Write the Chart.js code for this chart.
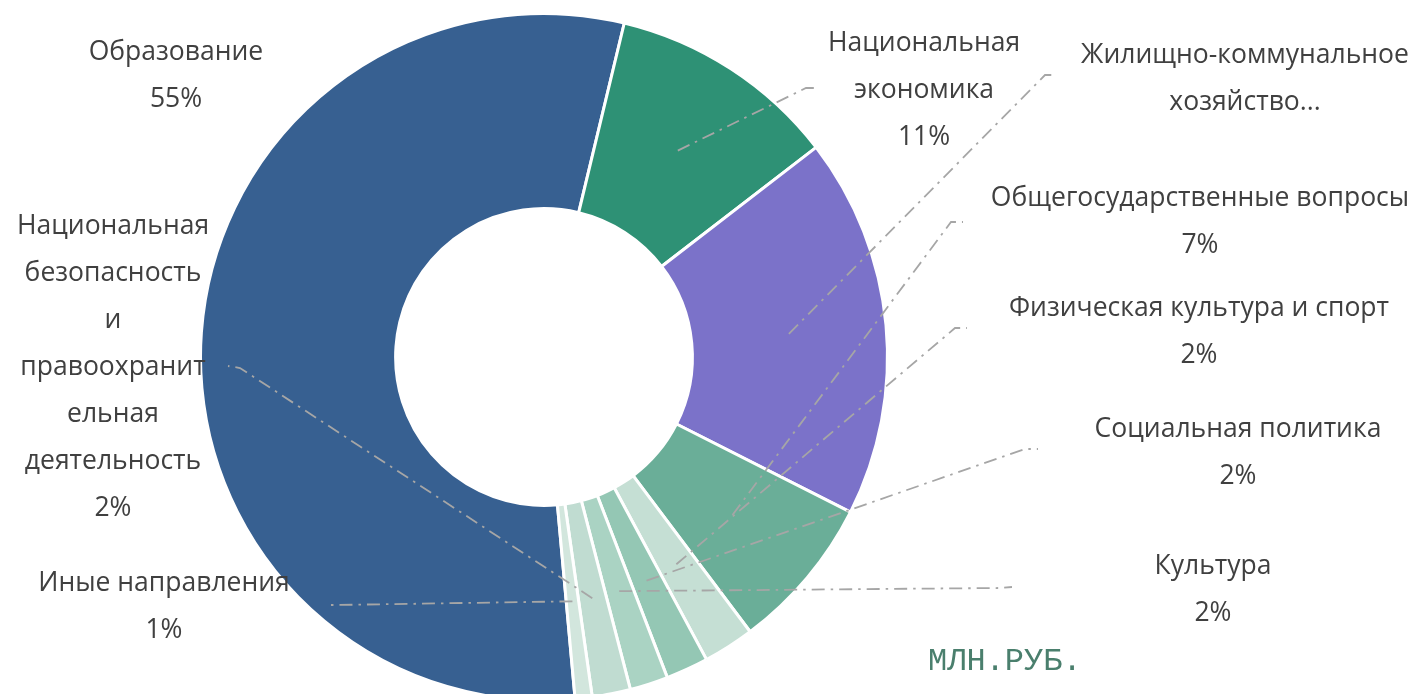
<!DOCTYPE html>
<html>
<head>
<meta charset="utf-8">
<script src="https://cdn.jsdelivr.net/npm/chart.js@4.4.1/dist/chart.umd.min.js"></script>
<style>
  html, body { margin: 0; padding: 0; background: #ffffff; overflow: hidden; }
  #wrap { position: relative; width: 1424px; height: 694px; }
  canvas { display: block; }
</style>
</head>
<body>
<div id="wrap"><canvas id="c" width="1424" height="694"></canvas></div>
<script>
// ---- data ----
const categories = [
  'Образование',
  'Национальная экономика',
  'Жилищно-коммунальное хозяйство',
  'Общегосударственные вопросы',
  'Физическая культура и спорт',
  'Социальная политика',
  'Культура',
  'Национальная безопасность и правоохранительная деятельность',
  'Иные направления'
];
// shares (млн. руб.)
const values = [55.2, 10.8, 17.9, 7.3, 2.4, 2.0, 1.8, 1.8, 0.8];
// label text lines as shown in the picture
const labelLines = [
  ['Образование'],
  ['Национальная', 'экономика'],
  ['Жилищно-коммунальное', 'хозяйство...'],
  ['Общегосударственные вопросы'],
  ['Физическая культура и спорт'],
  ['Социальная политика'],
  ['Культура'],
  ['Национальная', 'безопасность', 'и', 'правоохранит', 'ельная', 'деятельность'],
  ['Иные направления']
];
const showPercent = [true, true, false, true, true, true, true, true, true];
const unitLabel = 'МЛН.РУБ.';

// ---- styles / layout ----
const colors = ['#376091', '#2e9175', '#7b72c9', '#6aae98', '#c5dfd4', '#94c7b4', '#aad3c3', '#c0dcd1', '#d2e6dd'];
// label placement: center x, first line center y, leader bend & end points
const labelLayout = [
  { x: 176,  y: 52 },
  { x: 924,  y: 43,  bend: [806, 88],  end: [819, 88] },
  { x: 1245, y: 55,  bend: [1045, 75], end: [1057, 75] },
  { x: 1200, y: 198, bend: [951, 222], end: [963, 222] },
  { x: 1199, y: 308, bend: [955, 328], end: [967, 328] },
  { x: 1238, y: 429, bend: [1025, 449], end: [1038, 449] },
  { x: 1213, y: 566, bend: [1000, 588], end: [1012, 587] },
  { x: 113,  y: 226, bend: [240, 368], end: [228, 366] },
  { x: 164,  y: 583, bend: [335, 605], end: [325, 605] }
];
const lineGap = 47;
const labelFont = '26.5px "Open Sans"';
const labelColor = '#404040';

const total = values.reduce((a, b) => a + b, 0);

const labelPlugin = {
  id: 'outerLabels',
  afterDatasetsDraw(chart) {
    const ctx = chart.ctx;
    const meta = chart.getDatasetMeta(0);
    ctx.save();
    // leader lines
    ctx.strokeStyle = '#a6a6a6';
    ctx.lineWidth = 1.8;
    ctx.setLineDash([13, 6, 2.5, 6]);
    meta.data.forEach((arc, i) => {
      const L = labelLayout[i];
      if (!L.bend) return;
      const p = arc.tooltipPosition();
      ctx.beginPath();
      ctx.moveTo(p.x, p.y);
      ctx.lineTo(L.bend[0], L.bend[1]);
      ctx.lineTo(L.end[0], L.end[1]);
      ctx.stroke();
    });
    ctx.setLineDash([]);
    // labels
    ctx.fillStyle = labelColor;
    ctx.font = labelFont;
    ctx.textAlign = 'center';
    ctx.textBaseline = 'middle';
    meta.data.forEach((arc, i) => {
      const L = labelLayout[i];
      const lines = labelLines[i].slice();
      if (showPercent[i]) lines.push(Math.round(values[i] / total * 100) + '%');
      lines.forEach((t, k) => ctx.fillText(t, L.x, L.y + k * lineGap));
    });
    // unit caption
    ctx.font = '32px "Liberation Mono", "Courier New", monospace';
    ctx.fillStyle = '#4a7f6d';
    ctx.textAlign = 'left';
    ctx.textBaseline = 'alphabetic';
    ctx.fillText(unitLabel, 928, 670);
    ctx.restore();
  }
};

new Chart(document.getElementById('c'), {
  type: 'doughnut',
  data: {
    labels: categories,
    datasets: [{
      data: values,
      backgroundColor: colors,
      borderColor: '#ffffff',
      borderWidth: 3,
      radius: 343.5,
      hoverOffset: 0
    }]
  },
  options: {
    responsive: false,
    animation: false,
    devicePixelRatio: 1,
    cutout: '43.2%',
    rotation: 174.8,
    layout: { padding: { left: 0, right: 336, top: 20, bottom: 0 } },
    plugins: {
      legend: { display: false },
      tooltip: { enabled: false }
    },
    events: []
  },
  plugins: [labelPlugin]
});
</script>
</body>
</html>
